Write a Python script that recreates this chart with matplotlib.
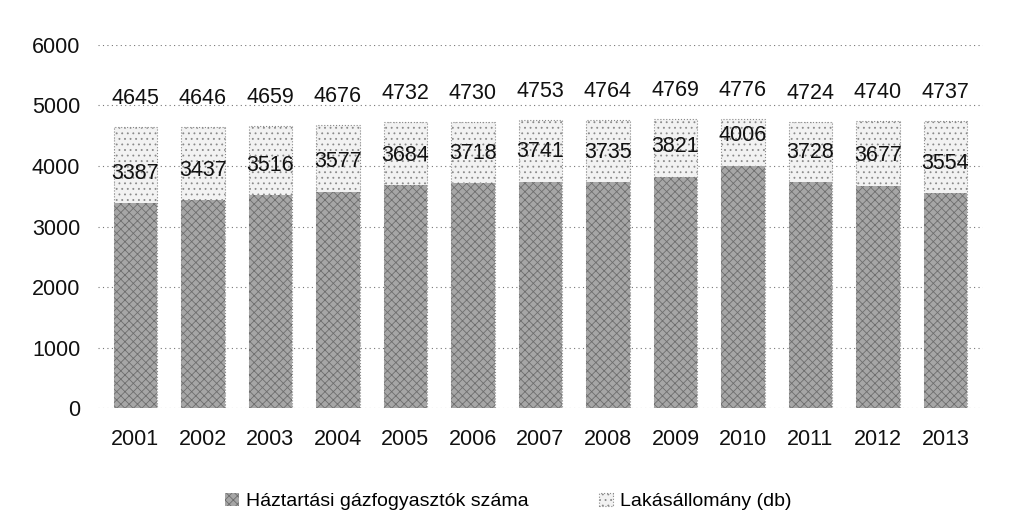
import matplotlib.pyplot as plt
import numpy as np

plt.rcParams['font.family'] = ['Liberation Sans', 'DejaVu Sans']
plt.rcParams['hatch.linewidth'] = 0.6

# Years and the two series
years = ['2001', '2002', '2003', '2004', '2005', '2006', '2007',
         '2008', '2009', '2010', '2011', '2012', '2013']
lakasallomany = [4645, 4646, 4659, 4676, 4732, 4730, 4753,
                 4764, 4769, 4776, 4724, 4740, 4737]
gazfogyasztok = [3387, 3437, 3516, 3577, 3684, 3718, 3741,
                 3735, 3821, 4006, 3728, 3677, 3554]

x = np.arange(len(years))
width = 0.64

fig = plt.figure(figsize=(10.13, 5.28), dpi=100)
ax = fig.add_axes([0.097, 0.227, 0.873, 0.688])

# Dwelling stock drawn behind, gas consumers in front (overlapping bars)
back = ax.bar(x, lakasallomany, width, color='#f2f2f2', edgecolor='#8a8a8a',
              hatch='...', linewidth=0.8, linestyle=':', zorder=2,
              label='Lakásállomány (db)')
front = ax.bar(x, gazfogyasztok, width, color='#a6a6a6', edgecolor='#6e6e6e',
               hatch='xxxx', linewidth=0, zorder=3,
               label='Háztartási gázfogyasztók száma')

for xi, v in zip(x, lakasallomany):
    ax.annotate(str(v), (xi, v), xytext=(0, 13), textcoords='offset points',
                ha='center', va='bottom', fontsize=15.5, color='#111111', zorder=5)
for xi, v in zip(x, gazfogyasztok):
    ax.annotate(str(v), (xi, v), xytext=(0, 14), textcoords='offset points',
                ha='center', va='bottom', fontsize=15.5, color='#111111', zorder=5)

ax.set_xlim(-0.55, 12.55)
ax.set_ylim(0, 6000)
ax.set_yticks(range(0, 6001, 1000))
ax.set_xticks(x)
ax.set_xticklabels(years)
ax.tick_params(axis='both', length=0, labelsize=15.5, labelcolor='#111111')
ax.tick_params(axis='y', pad=13)
ax.tick_params(axis='x', pad=15)

ax.yaxis.grid(True, linestyle=(0, (1, 3)), color='#777777', linewidth=0.8, zorder=0)
ax.set_axisbelow(True)
for s in ax.spines.values():
    s.set_visible(False)

fig.legend(handles=[front, back], loc='center', bbox_to_anchor=(0.502, 0.05),
           ncol=2, frameon=False, fontsize=14, handlelength=0.7,
           handleheight=0.7, handletextpad=0.4, columnspacing=3.6)

plt.savefig('out.png', dpi=100)
